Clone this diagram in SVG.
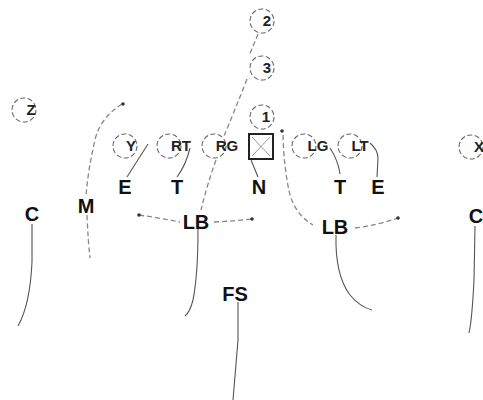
<svg xmlns="http://www.w3.org/2000/svg" width="483" height="400" viewBox="0 0 483 400">
<style>
.bg{fill:#fff}
.pc{fill:none;stroke:#666;stroke-width:1.1;stroke-dasharray:5 2.5}
.pl{font-family:"Liberation Sans",Arial,sans-serif;font-weight:bold;font-size:15px;fill:#222;text-anchor:middle}
.dl{font-family:"Liberation Sans",Arial,sans-serif;font-weight:bold;font-size:20px;fill:#111;text-anchor:middle}
.sl{fill:none;stroke:#555;stroke-width:1.1}
.ds{fill:none;stroke:#888;stroke-width:1.3;stroke-dasharray:5 3}
.dot{fill:#333}
</style>
<rect class="bg" x="0" y="0" width="483" height="400"/>
<g id="connectors">
<path class="sl" d="M148,144 L127,177"/>
<path class="sl" d="M190,148 Q186,165 177,177"/>
<path class="sl" d="M251,160 L258,177"/>
<path class="sl" d="M330,148 Q338,160 340,174"/>
<path class="sl" d="M370,143 Q378,150 378,158 L377,177"/>
<path class="sl" d="M32,224 L32,262 Q30,305 18,326"/>
<path class="sl" d="M475,226 L474,280 Q472,320 469,333"/>
<path class="sl" d="M198,229 Q198,275 193,300 Q190,312 185,316"/>
<path class="sl" d="M336,235 Q335,275 350,295 Q360,307 372,310"/>
<path class="sl" d="M238,302 L238,340 L233,400"/>
<path class="ds" d="M122,104 Q100,118 95,140 Q88,170 86,196"/>
<path class="ds" d="M87,215 Q88,240 90,258"/>
<path class="ds" d="M258,34 L249,56"/>
<path class="ds" d="M247,79 Q235,110 224,136"/>
<path class="ds" d="M216,160 Q207,185 201,210"/>
<path class="ds" d="M283,135 Q284,170 290,195 Q296,215 313,225"/>
<path class="ds" d="M139,215 Q160,218 180,222"/>
<path class="ds" d="M214,222 Q235,221 252,219"/>
<path class="ds" d="M355,228 Q378,225 398,218"/>
<circle class="dot" cx="123" cy="104" r="1.8"/>
<circle class="dot" cx="139" cy="215" r="1.8"/>
<circle class="dot" cx="252" cy="219" r="1.8"/>
<circle class="dot" cx="398" cy="218" r="1.8"/>
<circle class="dot" cx="282" cy="131" r="1.8"/>
</g>
<g id="n2"><circle class="pc" cx="262" cy="21" r="12"/><text class="pl" x="267" y="26">2</text></g>
<g id="n3"><circle class="pc" cx="262" cy="68" r="12"/><text class="pl" x="267" y="73">3</text></g>
<g id="n1"><circle class="pc" cx="262" cy="117" r="12"/><text class="pl" x="266" y="122">1</text></g>
<g id="nZ"><circle class="pc" cx="24" cy="110" r="12"/><text class="pl" x="31" y="115">Z</text></g>
<g id="nY"><circle class="pc" cx="125" cy="146" r="12"/><text class="pl" x="131" y="151">Y</text></g>
<g id="nRT"><circle class="pc" cx="169" cy="146" r="12"/><text class="pl" x="181" y="151">RT</text></g>
<g id="nRG"><circle class="pc" cx="214" cy="146" r="12"/><text class="pl" x="227" y="151">RG</text></g>
<g id="nC"><rect x="249" y="134" width="24" height="25" fill="none" stroke="#222" stroke-width="2"/><path d="M252,137 L270,156 M270,137 L252,156" stroke="#999" stroke-width="1"/></g>
<g id="nLG"><circle class="pc" cx="304" cy="146" r="12"/><text class="pl" x="318" y="151">LG</text></g>
<g id="nLT"><circle class="pc" cx="350" cy="146" r="12"/><text class="pl" x="360" y="151">LT</text></g>
<g id="nX"><circle class="pc" cx="471" cy="147" r="12"/><text class="pl" x="479" y="152">X</text></g>
<g id="dE1"><text class="dl" x="125" y="194">E</text></g>
<g id="dT1"><text class="dl" x="177" y="194">T</text></g>
<g id="dN"><text class="dl" x="259" y="194">N</text></g>
<g id="dT2"><text class="dl" x="340" y="194">T</text></g>
<g id="dE2"><text class="dl" x="378" y="194">E</text></g>
<g id="dC1"><text class="dl" x="32" y="221">C</text></g>
<g id="dM"><text class="dl" x="86" y="213">M</text></g>
<g id="dLB1"><text class="dl" x="196" y="229">LB</text></g>
<g id="dLB2"><text class="dl" x="335" y="234">LB</text></g>
<g id="dC2"><text class="dl" x="476" y="223">C</text></g>
<g id="dFS"><text class="dl" x="235" y="301">FS</text></g>
</svg>
